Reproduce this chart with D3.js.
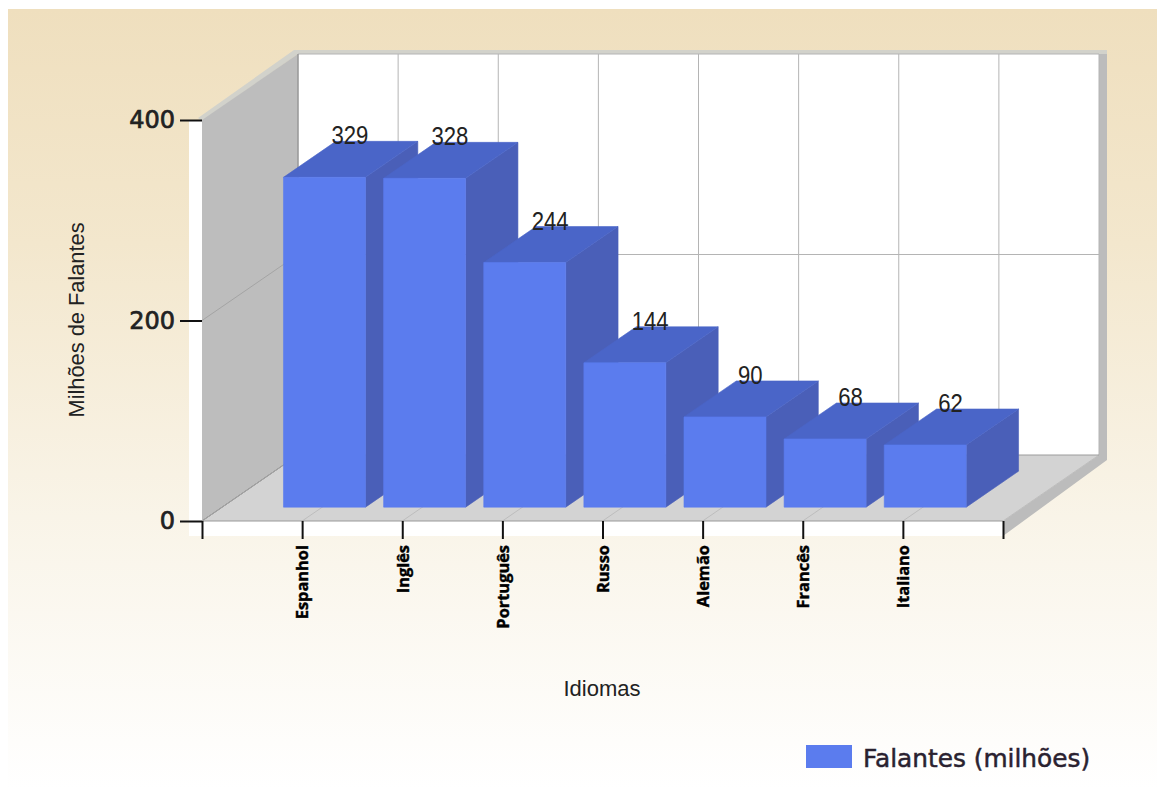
<!DOCTYPE html>
<html lang="pt">
  <head>
    <meta charset="UTF-8" />
    <script src="https://d3js.org/d3.v7.min.js"></script>
    <style>
      body { margin: 0; background: #fff; }
      svg { display: block; }
      .domain { display: none; }
      .yAxis text { font: 24px "DejaVu Sans"; fill: #222; stroke: #222; stroke-width: 0.7px; }
      .xAxis text { font: bold 16.4px "Open Sans"; fill: #000; stroke: #000; stroke-width: 0.4px; }
      .tick line { stroke: #111; stroke-width: 2px; }
    </style>
    <title>Falantes</title>
  </head>
  <body>
    <svg id="chart" width="1157" height="790"></svg>
    <script>
      const idiomas = ["Espanhol", "Inglês", "Português", "Russo", "Alemão", "Francês", "Italiano"];
      const falantes = [329, 328, 244, 144, 90, 68, 62];
      const yTicks = [0, 200, 400];
      const gridValues = [200, 400];

      const svg = d3.select("#chart");

      // background gradient
      const grad = svg.append("defs").append("linearGradient")
        .attr("id", "bg").attr("x1", 0).attr("y1", 0).attr("x2", 0).attr("y2", 1);
      grad.append("stop").attr("offset", "0%").attr("stop-color", "#efdfbe");
      grad.append("stop").attr("offset", "30%").attr("stop-color", "#f3e7cd");
      grad.append("stop").attr("offset", "65%").attr("stop-color", "#f9f4e8");
      grad.append("stop").attr("offset", "100%").attr("stop-color", "#ffffff");
      svg.append("rect").attr("x", 8).attr("y", 9).attr("width", 1149).attr("height", 781).attr("fill", "url(#bg)");

      // slots: an empty tick before and after the categories
      const x = d3.scaleLinear().domain([0, idiomas.length + 1]).range([202, 1003]);
      const y = d3.scaleLinear().domain([0, 400]).range([521, 120]);
      const depthX = 96, depthY = -66;
      const pt = (px, py, z) => [px + depthX * z, py + depthY * z];
      const poly = (pts) => pts.map((p) => p.join(",")).join(" ");

      const x0 = x.range()[0], x1 = x.range()[1], yBase = y(0), yTop = y(400);

      // white plot area
      svg.append("rect").attr("x", 189).attr("y", yTop)
        .attr("width", x1 - 189).attr("height", yBase + 15 - yTop).attr("fill", "#fff");

      // outer rim
      svg.append("polygon").attr("fill", "#d2d2cb").attr("points", poly([
        [x0 - 4, yTop - 2], [x0 + depthX - 4, yTop + depthY - 4], [x1 + depthX + 8, yTop + depthY - 4],
        [x1 + depthX + 8, yTop + depthY], pt(x0, yTop, 1), [x0, yTop + 1]
      ]));
      svg.append("polygon").attr("fill", "#bcbcbc").attr("points", poly([
        [x1 + depthX, yTop + depthY], [x1 + depthX + 8, yTop + depthY], [x1 + depthX + 8, yBase + depthY + 5],
        [x1, yBase + 15], [x1, yBase], [x1 + depthX, yBase + depthY]
      ]));

      // back wall, left wall, floor
      svg.append("polygon").attr("fill", "#fff").attr("points", poly([
        pt(x0, yTop, 1), pt(x1, yTop, 1), pt(x1, yBase, 1), pt(x0, yBase, 1)
      ]));
      svg.append("polygon").attr("fill", "#bdbdbd").attr("points", poly([
        [x0, yTop], pt(x0, yTop, 1), pt(x0, yBase, 1), [x0, yBase]
      ]));
      svg.append("polygon").attr("fill", "#d3d3d3").attr("points", poly([
        [x0, yBase], pt(x0, yBase, 1), pt(x1, yBase, 1), [x1, yBase]
      ]));

      // grid
      const grid = svg.append("g").attr("fill", "none").attr("stroke", "#b4b4b4").attr("stroke-width", 1);
      d3.range(0, idiomas.length + 2).forEach((i) => {
        const b = pt(x(i), yBase, 1), t = pt(x(i), yTop, 1);
        grid.append("line").attr("x1", b[0]).attr("y1", b[1]).attr("x2", t[0]).attr("y2", t[1]);
        grid.append("line").attr("x1", x(i)).attr("y1", yBase).attr("x2", b[0]).attr("y2", b[1])
          .attr("stroke", i === 0 ? "#777" : "#bdbdbd");
      });
      gridValues.concat([0]).forEach((v) => {
        const a = pt(x0, y(v), 1), b = pt(x1, y(v), 1);
        grid.append("line").attr("x1", a[0]).attr("y1", a[1]).attr("x2", b[0]).attr("y2", b[1])
          .attr("stroke", v === 0 ? "#9c9c9c" : "#b4b4b4");
        grid.append("line").attr("x1", x0).attr("y1", y(v)).attr("x2", a[0]).attr("y2", a[1])
          .attr("stroke", v === 400 ? "none" : "#a4a4a4");
      });
      // left wall's back edge and floor's front edge
      grid.append("line").attr("x1", x0 + depthX).attr("y1", yTop + depthY).attr("x2", x0 + depthX).attr("y2", yBase + depthY).attr("stroke", "#888");
      grid.append("line").attr("x1", x0).attr("y1", yBase).attr("x2", x1).attr("y2", yBase).attr("stroke", "#999");

      // bars
      const barW = 82, barShift = 2.2; // sits slightly right of the projected slot centre
      const zFront = 0.21, zBack = 0.755;
      const bars = svg.selectAll("g.bar").data(falantes).join("g").attr("class", "bar")
        .attr("stroke-width", 0.6);
      const corner = (d, i, side, z) => pt(x(i + 1) + barShift + (side * barW) / 2, y(d), z);
      const cornerB = (i, side, z) => pt(x(i + 1) + barShift + (side * barW) / 2, yBase, z);

      bars.append("polygon").attr("fill", "#4a5fb8").attr("stroke", "#4a5fb8").attr("points", (d, i) => poly([
        corner(d, i, 1, zFront), corner(d, i, 1, zBack), cornerB(i, 1, zBack), cornerB(i, 1, zFront)
      ]));
      bars.append("polygon").attr("fill", "#4a65c8").attr("stroke", "#4a65c8").attr("points", (d, i) => poly([
        corner(d, i, -1, zFront), corner(d, i, -1, zBack), corner(d, i, 1, zBack), corner(d, i, 1, zFront)
      ]));
      bars.append("polygon").attr("fill", "#5b7cee").attr("stroke", "#5b7cee").attr("points", (d, i) => poly([
        corner(d, i, -1, zFront), corner(d, i, 1, zFront), cornerB(i, 1, zFront), cornerB(i, -1, zFront)
      ]));

      // value labels
      svg.selectAll("text.value").data(falantes).join("text")
        .attr("class", "value")
        .attr("x", (d, i) => corner(d, i, 0, 0.5)[0] - 2.5)
        .attr("y", (d, i) => corner(d, i, 0, zBack)[1] + 3)
        .attr("text-anchor", "middle")
        .attr("textLength", (d) => String(d).length * 12.3)
        .attr("lengthAdjust", "spacingAndGlyphs")
        .style("font", '25px "Liberation Sans"')
        .style("fill", "#222")
        .text((d) => d);

      // axes
      svg.append("g").attr("class", "yAxis").attr("transform", `translate(${x0},0)`)
        .call(d3.axisLeft(y).tickValues(yTicks).tickSize(22).tickPadding(5));

      const xAxis = svg.append("g").attr("class", "xAxis").attr("transform", `translate(0,${yBase})`)
        .call(d3.axisBottom(x).tickValues(d3.range(0, idiomas.length + 2)).tickSize(18)
          .tickFormat((i) => idiomas[i - 1] || ""));
      xAxis.selectAll("text")
        .attr("text-anchor", "end")
        .attr("transform", "rotate(-90)")
        .attr("x", -24).attr("y", 0).attr("dy", "0.35em");

      // axis titles
      svg.append("text").attr("transform", "translate(84,320) rotate(-90)")
        .attr("text-anchor", "middle").style("font", '21.8px "Liberation Sans"').style("fill", "#222")
        .text("Milhões de Falantes");
      svg.append("text").attr("x", 602).attr("y", 696)
        .attr("text-anchor", "middle").style("font", '22px "Liberation Sans"').style("fill", "#222")
        .text("Idiomas");

      // legend
      svg.append("rect").attr("x", 806).attr("y", 745).attr("width", 46).attr("height", 23).attr("fill", "#5b7cee");
      svg.append("text").attr("x", 863).attr("y", 767)
        .style("font", '24.8px "DejaVu Sans"').style("fill", "#2a2230").style("stroke", "#2a2230").style("stroke-width", "0.5px")
        .text("Falantes (milhões)");
    </script>
  </body>
</html>
